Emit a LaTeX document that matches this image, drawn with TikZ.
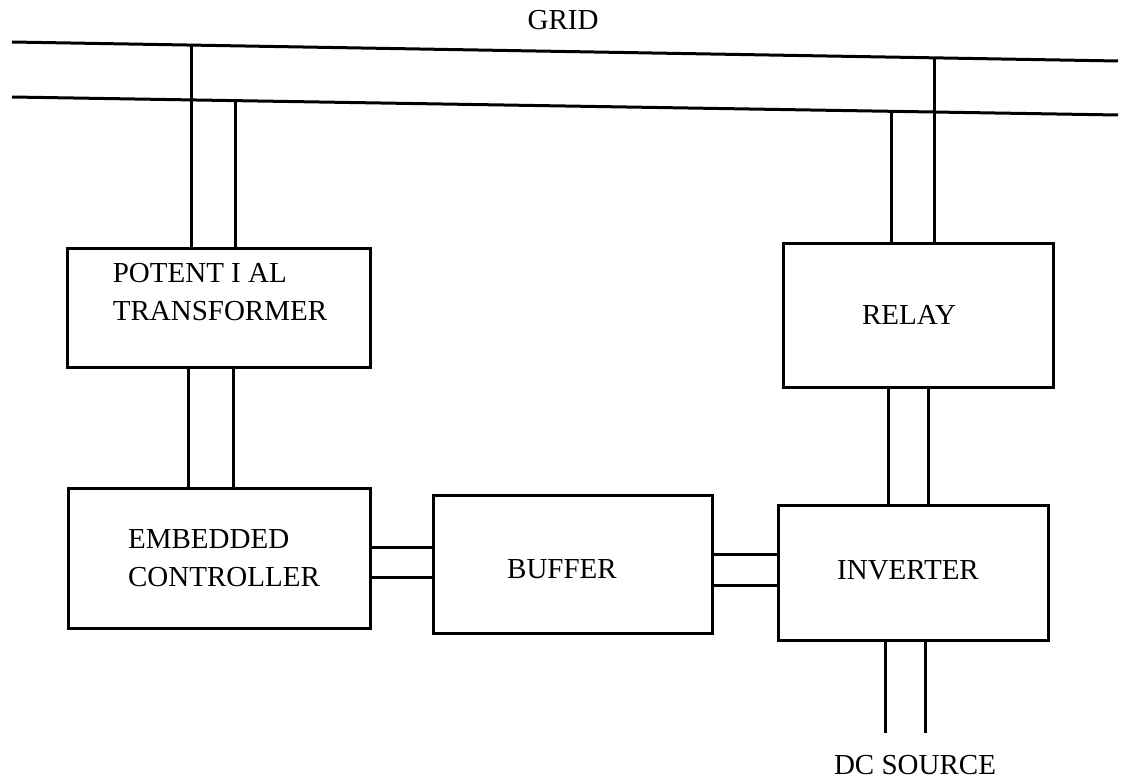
\documentclass[tikz,border=0pt]{standalone}
\usepackage{fontspec}
\setmainfont{Liberation Serif}
\usetikzlibrary{calc}
\begin{document}
\begin{tikzpicture}[x=1pt,y=-1pt,
  line width=3pt,
  blk/.style={draw,rectangle,inner sep=0pt,line width=3pt},
  lbl/.style={font=\fontsize{29}{38}\selectfont,inner sep=0pt,align=left},
  wire/.style={line width=3pt}]
\useasboundingbox (0,0) rectangle (1125,781);
% grid lines
\coordinate (g1l) at (12,42);
\coordinate (g1r) at (1118,61);
\coordinate (g2l) at (12,97);
\coordinate (g2r) at (1118,115);
\draw[wire] (g1l) -- (g1r);
\draw[wire] (g2l) -- (g2r);
\node[lbl] (grid) at (563,20) {GRID};
% blocks
\node[blk,minimum width=303pt,minimum height=119pt] (pt) at (218.5,307.5) {};
\node[blk,minimum width=302pt,minimum height=140pt] (ec) at (219,558) {};
\node[blk,minimum width=279pt,minimum height=138pt] (buf) at (572.5,564) {};
\node[blk,minimum width=270pt,minimum height=135pt] (inv) at (913,572.5) {};
\node[blk,minimum width=270pt,minimum height=144pt] (rel) at (918,315) {};
% labels
\node[lbl] (ptl) at (220,292) {POTENT I AL\\TRANSFORMER};
\node[lbl] (ecl) at (224,558) {EMBEDDED\\CONTROLLER};
\node[lbl] (bufl) at (562,569) {BUFFER};
\node[lbl] (invl) at (908,570) {INVERTER};
\node[lbl] (rell) at (909,315) {RELAY};
\node[lbl] (dcl) at (915,765) {DC SOURCE};
% grid to potential transformer
\coordinate (a1) at ($(g1l)!0.1627!(g1r)$);
\coordinate (a2) at ($(g2l)!0.2025!(g2r)$);
\draw[wire] (a1) -- (a1 |- pt.north);
\draw[wire] (a2) -- (a2 |- pt.north);
% grid to relay
\coordinate (b1) at ($(g2l)!0.7948!(g2r)$);
\coordinate (b2) at ($(g1l)!0.8345!(g1r)$);
\draw[wire] (b1) -- (b1 |- rel.north);
\draw[wire] (b2) -- (b2 |- rel.north);
% PT to EC
\draw[wire] (pt.south -| 188,0) -- (ec.north -| 188,0);
\draw[wire] (pt.south -| 233,0) -- (ec.north -| 233,0);
% EC to buffer
\draw[wire] (ec.east |- 0,547) -- (buf.west |- 0,547);
\draw[wire] (ec.east |- 0,577) -- (buf.west |- 0,577);
% buffer to inverter
\draw[wire] (buf.east |- 0,554) -- (inv.west |- 0,554);
\draw[wire] (buf.east |- 0,585) -- (inv.west |- 0,585);
% relay to inverter
\draw[wire] (rel.south -| 888,0) -- (inv.north -| 888,0);
\draw[wire] (rel.south -| 928,0) -- (inv.north -| 928,0);
% inverter to DC source
\coordinate (d1) at (885,733);
\coordinate (d2) at (925,733);
\draw[wire] (inv.south -| d1) -- (d1);
\draw[wire] (inv.south -| d2) -- (d2);
\end{tikzpicture}
\end{document}
